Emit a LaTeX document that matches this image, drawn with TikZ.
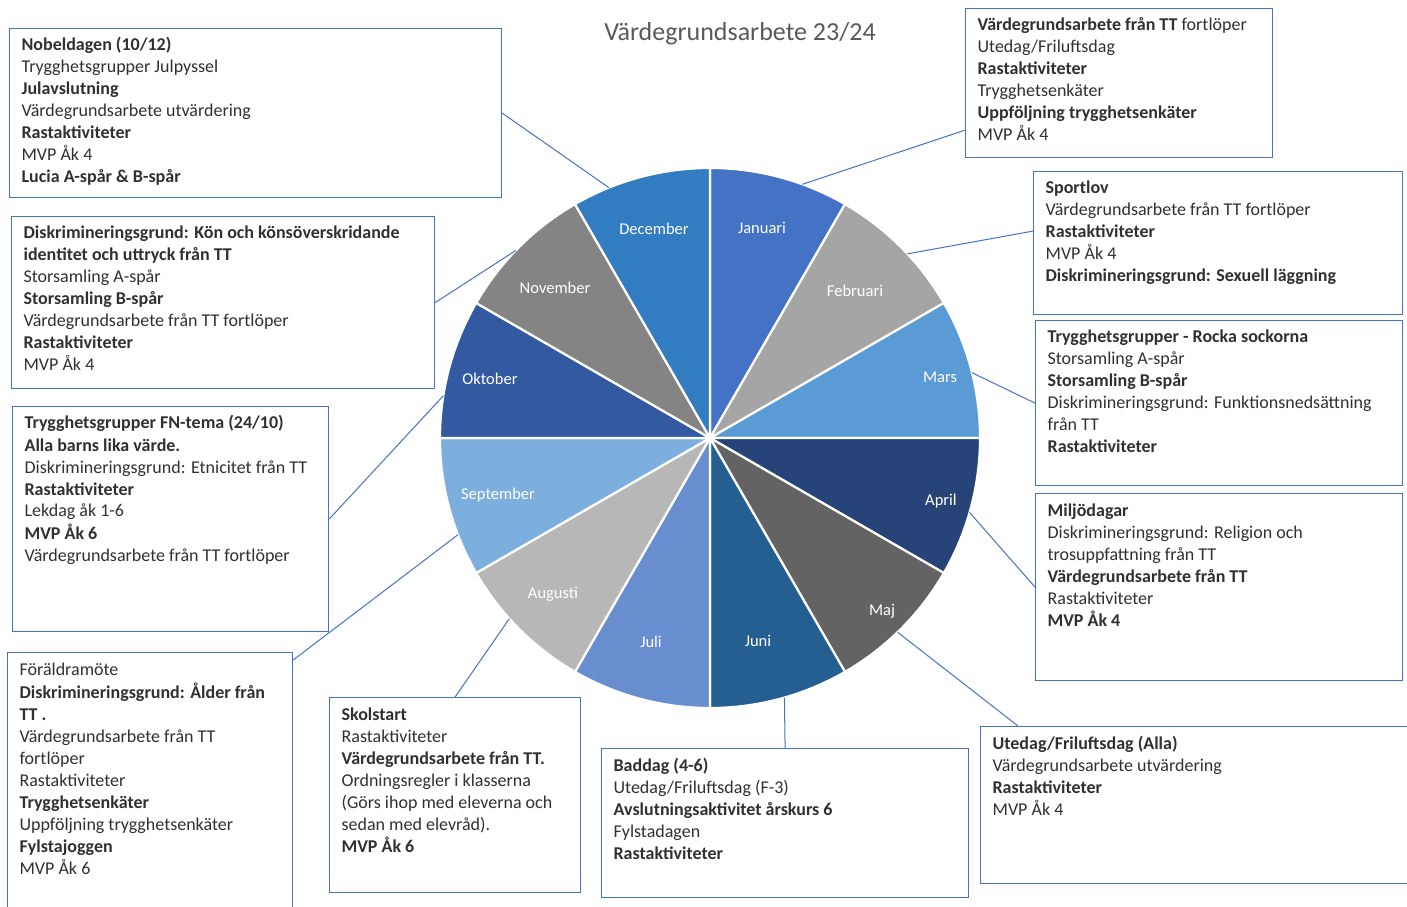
\documentclass[tikz,border=0pt]{standalone}
\usepackage{fontspec}
\setmainfont{Carlito}
\definecolor{lineblue}{HTML}{4472C4}
\definecolor{textgray}{HTML}{303030}
\definecolor{titlegray}{HTML}{595959}
\definecolor{janblue}{HTML}{4472C4}
\definecolor{febgray}{HTML}{A5A5A5}
\definecolor{marblue}{HTML}{5B9BD5}
\definecolor{aprblue}{HTML}{264478}
\definecolor{majgray}{HTML}{636363}
\definecolor{junblue}{HTML}{255E91}
\definecolor{julblue}{HTML}{698ED0}
\definecolor{auggray}{HTML}{B7B7B7}
\definecolor{sepblue}{HTML}{7CAFDD}
\definecolor{oktblue}{HTML}{335AA1}
\definecolor{novgray}{HTML}{848484}
\definecolor{decblue}{HTML}{327DC2}
\newcommand{\infotext}[3]{\parbox[t][#2][t]{#1}{\raggedright\strut #3}}

\begin{document}
\begin{tikzpicture}[x=1pt, y=1pt]
% Define styles
\tikzstyle{infobox} = [rectangle, draw=lineblue, line width=1.2pt, anchor=north west, inner xsep=12pt, inner ysep=7pt, text=textgray, font=\fontsize{18}{22}\selectfont]
\tikzstyle{month} = [text=white, font=\fontsize{16.5}{20}\selectfont]
\tikzstyle{slice} = [draw=white, line width=2.2pt, line join=round]
\tikzstyle{link} = [draw=lineblue, line width=1pt]

\useasboundingbox (0,0) rectangle (1407,906);

% Title
\node (title) [text=titlegray, font=\fontsize{26}{30}\selectfont] at (740,872) {Värdegrundsarbete 23/24};

% Wheel
\node (wheel) [circle, minimum size=540pt, inner sep=0pt, outer sep=0pt] at (710,468) {};
\filldraw[slice, fill=janblue] (wheel.center) -- (wheel.60) arc[start angle=60, end angle=90, radius=270pt] -- cycle;
\filldraw[slice, fill=febgray] (wheel.center) -- (wheel.30) arc[start angle=30, end angle=60, radius=270pt] -- cycle;
\filldraw[slice, fill=marblue] (wheel.center) -- (wheel.0) arc[start angle=0, end angle=30, radius=270pt] -- cycle;
\filldraw[slice, fill=aprblue] (wheel.center) -- (wheel.330) arc[start angle=-30, end angle=0, radius=270pt] -- cycle;
\filldraw[slice, fill=majgray] (wheel.center) -- (wheel.300) arc[start angle=-60, end angle=-30, radius=270pt] -- cycle;
\filldraw[slice, fill=junblue] (wheel.center) -- (wheel.270) arc[start angle=-90, end angle=-60, radius=270pt] -- cycle;
\filldraw[slice, fill=julblue] (wheel.center) -- (wheel.240) arc[start angle=240, end angle=270, radius=270pt] -- cycle;
\filldraw[slice, fill=auggray] (wheel.center) -- (wheel.210) arc[start angle=210, end angle=240, radius=270pt] -- cycle;
\filldraw[slice, fill=sepblue] (wheel.center) -- (wheel.180) arc[start angle=180, end angle=210, radius=270pt] -- cycle;
\filldraw[slice, fill=oktblue] (wheel.center) -- (wheel.150) arc[start angle=150, end angle=180, radius=270pt] -- cycle;
\filldraw[slice, fill=novgray] (wheel.center) -- (wheel.120) arc[start angle=120, end angle=150, radius=270pt] -- cycle;
\filldraw[slice, fill=decblue] (wheel.center) -- (wheel.90) arc[start angle=90, end angle=120, radius=270pt] -- cycle;

% Month labels
\node (jan) [month] at (762,678) {Januari};
\node (feb) [month] at (855,615) {Februari};
\node (mar) [month] at (940,529) {Mars};
\node (apr) [month] at (941,405) {April};
\node (maj) [month] at (882,295) {Maj};
\node (jun) [month] at (758,265) {Juni};
\node (jul) [month] at (651,264) {Juli};
\node (aug) [month] at (553,312) {Augusti};
\node (sep) [month] at (498,411) {September};
\node (okt) [month] at (490,527) {Oktober};
\node (nov) [month] at (555,618) {November};
\node (dec) [month] at (654,677) {December};

% Boxes
\node (nobel) [infobox] at (9,878) {\infotext{468pt}{155pt}{\textbf{Nobeldagen (10/12)}\\
Trygghetsgrupper Julpyssel\\
\textbf{Julavslutning}\\
Värdegrundsarbete utvärdering\\
\textbf{Rastaktiviteter}\\
MVP Åk 4\\
\textbf{Lucia A-spår \& B-spår}}};
\node (kon) [infobox] at (11,690) {\infotext{399pt}{158pt}{\textbf{Diskrimineringsgrund: Kön och könsöverskridande}\\
\textbf{identitet och uttryck från TT}\\
Storsamling A-spår\\
\textbf{Storsamling B-spår}\\
Värdegrundsarbete från TT fortlöper\\
\textbf{Rastaktiviteter}\\
MVP Åk 4}};
\node (fntema) [infobox] at (12,500) {\infotext{292pt}{211pt}{\textbf{Trygghetsgrupper FN-tema (24/10)}\\
\textbf{Alla barns lika värde.}\\
Diskrimineringsgrund: Etnicitet från TT\\
\textbf{Rastaktiviteter}\\
Lekdag åk 1-6\\
\textbf{MVP Åk 6}\\
Värdegrundsarbete från TT fortlöper}};
\node (foraldra) [infobox] at (7,254) {\infotext{261pt}{255pt}{Föräldramöte\\
\textbf{Diskrimineringsgrund: Ålder från}\\
\textbf{TT .}\\
Värdegrundsarbete från TT\\
fortlöper\\
Rastaktiviteter\\
\textbf{Trygghetsenkäter}\\
Uppföljning trygghetsenkäter\\
\textbf{Fylstajoggen}\\
MVP Åk 6}};
\node (skolstart) [infobox] at (329,209) {\infotext{227pt}{181pt}{\textbf{Skolstart}\\
Rastaktiviteter\\
\textbf{Värdegrundsarbete från TT.}\\
Ordningsregler i klasserna\\
(Görs ihop med eleverna och\\
sedan med elevråd).\\
\textbf{MVP Åk 6}}};
\node (baddag) [infobox] at (601,158) {\infotext{343pt}{135pt}{\textbf{Baddag (4-6)}\\
Utedag/Friluftsdag (F-3)\\
\textbf{Avslutningsaktivitet årskurs 6}\\
Fylstadagen\\
\textbf{Rastaktiviteter}}};
\node (utedag) [infobox] at (980,180) {\infotext{415pt}{143pt}{\textbf{Utedag/Friluftsdag (Alla)}\\
Värdegrundsarbete utvärdering\\
\textbf{Rastaktiviteter}\\
MVP Åk 4}};
\node (miljo) [infobox] at (1035,413) {\infotext{343pt}{173pt}{\textbf{Miljödagar}\\
Diskrimineringsgrund: Religion och\\
trosuppfattning från TT\\
\textbf{Värdegrundsarbete från TT}\\
Rastaktiviteter\\
\textbf{MVP Åk 4}}};
\node (rocka) [infobox] at (1035,586) {\infotext{343pt}{151pt}{\textbf{Trygghetsgrupper - Rocka sockorna}\\
Storsamling A-spår\\
\textbf{Storsamling B-spår}\\
Diskrimineringsgrund: Funktionsnedsättning\\
från TT\\
\textbf{Rastaktiviteter}}};
\node (sportlov) [infobox] at (1033,735) {\infotext{345pt}{129pt}{\textbf{Sportlov}\\
Värdegrundsarbete från TT fortlöper\\
\textbf{Rastaktiviteter}\\
MVP Åk 4\\
\textbf{Diskrimineringsgrund: Sexuell läggning}}};
\node (varde) [infobox] at (965,898) {\infotext{283pt}{135pt}{\textbf{Värdegrundsarbete från TT} fortlöper\\
Utedag/Friluftsdag\\
\textbf{Rastaktiviteter}\\
Trygghetsenkäter\\
\textbf{Uppföljning trygghetsenkäter}\\
MVP Åk 4}};

% Connectors
\draw[link] (nobel.east) -- (wheel.112);
\draw[link] (kon.east) -- (wheel.136);
\draw[link] (fntema.east) -- (wheel.171);
\draw[link] ([yshift=-8pt]foraldra.north east) -- (wheel.201);
\draw[link] (skolstart.north) -- (wheel.222);
\draw[link] (baddag.north) -- (wheel.286);
\draw[link] ([xshift=38pt]utedag.north west) -- (wheel.314);
\draw[link] (miljo.west) -- (wheel.344);
\draw[link] (rocka.west) -- (wheel.14);
\draw[link] ([yshift=12pt]sportlov.west) -- (wheel.43);
\draw[link] ([yshift=28pt]varde.south west) -- (wheel.70);
\end{tikzpicture}
\end{document}
